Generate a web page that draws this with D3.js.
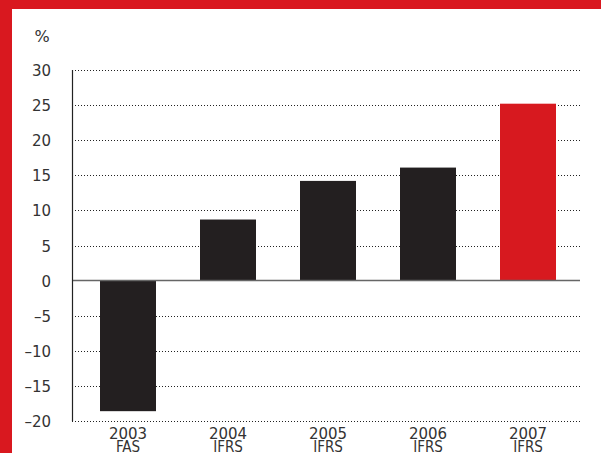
<!DOCTYPE html>
<html>
<head>
<meta charset="utf-8">
<script src="https://cdn.jsdelivr.net/npm/d3@7"></script>
<style>
  html, body { margin: 0; padding: 0; background: #fff; }
  svg { display: block; }
</style>
</head>
<body>
<script>
// Return on equity by year, with the accounting standard used
const years = ["2003", "2004", "2005", "2006", "2007"];
const standards = ["FAS", "IFRS", "IFRS", "IFRS", "IFRS"];
const values = [-18.6, 8.7, 14.2, 16.1, 25.2];
const barColors = ["#231f20", "#231f20", "#231f20", "#231f20", "#d7191f"];
const yTicks = [30, 25, 20, 15, 10, 5, 0, -5, -10, -15, -20];

const W = 601, H = 453;
const svg = d3.select("body").append("svg").attr("width", W).attr("height", H);

// Red frame along the top and left edges
svg.append("rect").attr("x", 0).attr("y", 0).attr("width", W).attr("height", 9).attr("fill", "#d9181f");
svg.append("rect").attr("x", 0).attr("y", 0).attr("width", 12).attr("height", H).attr("fill", "#d9181f");

const left = 72, right = 580;
const y = d3.scaleLinear().domain([-20, 30]).range([421, 70]);
const x = d3.scaleBand().domain(years).range([78, 578]).paddingInner(0.44).paddingOuter(0.22);

const font = "'DejaVu Sans', 'Liberation Sans', sans-serif";
const fmt = v => v < 0 ? "\u2013" + Math.abs(v) : String(v);

// Dotted gridlines
svg.append("g").selectAll("line").data(yTicks.filter(t => t !== 0)).join("line")
  .attr("x1", left).attr("x2", right)
  .attr("y1", d => Math.round(y(d)) + 0.5).attr("y2", d => Math.round(y(d)) + 0.5)
  .attr("stroke", "#222").attr("stroke-width", 1).attr("stroke-dasharray", "1,2");

// Bars
svg.append("g").selectAll("rect").data(years).join("rect")
  .attr("x", d => x(d))
  .attr("width", x.bandwidth())
  .attr("y", (d, i) => y(Math.max(0, values[i])))
  .attr("height", (d, i) => Math.abs(y(values[i]) - y(0)))
  .attr("fill", (d, i) => barColors[i]);

// Zero line
svg.append("line").attr("x1", left).attr("x2", right)
  .attr("y1", y(0)).attr("y2", y(0))
  .attr("stroke", "#666").attr("stroke-width", 1.5);

// Y axis line
svg.append("line").attr("x1", left + 0.5).attr("x2", left + 0.5)
  .attr("y1", y(30)).attr("y2", y(-20))
  .attr("stroke", "#222").attr("stroke-width", 1.2);

// Y tick labels
svg.append("g").selectAll("text").data(yTicks).join("text")
  .attr("x", 51).attr("y", d => y(d) + 6)
  .attr("text-anchor", "end")
  .attr("font-family", font).attr("font-size", 15).attr("fill", "#333")
  .text(fmt);

// Unit label
svg.append("text").attr("x", 42).attr("y", 42).attr("text-anchor", "middle")
  .attr("font-family", font).attr("font-size", 16).attr("fill", "#333").text("%");

// Category labels: year and accounting standard
const cat = svg.append("g").selectAll("g").data(years).join("g")
  .attr("transform", d => `translate(${x(d) + x.bandwidth() / 2},0)`);
cat.append("text").attr("y", 439).attr("text-anchor", "middle")
  .attr("font-family", font).attr("font-size", 15).attr("fill", "#333")
  .text(d => d);
cat.append("text").attr("y", 452).attr("text-anchor", "middle")
  .attr("font-family", "'Liberation Sans Narrow', 'DejaVu Sans Condensed', sans-serif")
  .attr("font-size", 15).attr("fill", "#333")
  .text((d, i) => standards[i]);
</script>
</body>
</html>
